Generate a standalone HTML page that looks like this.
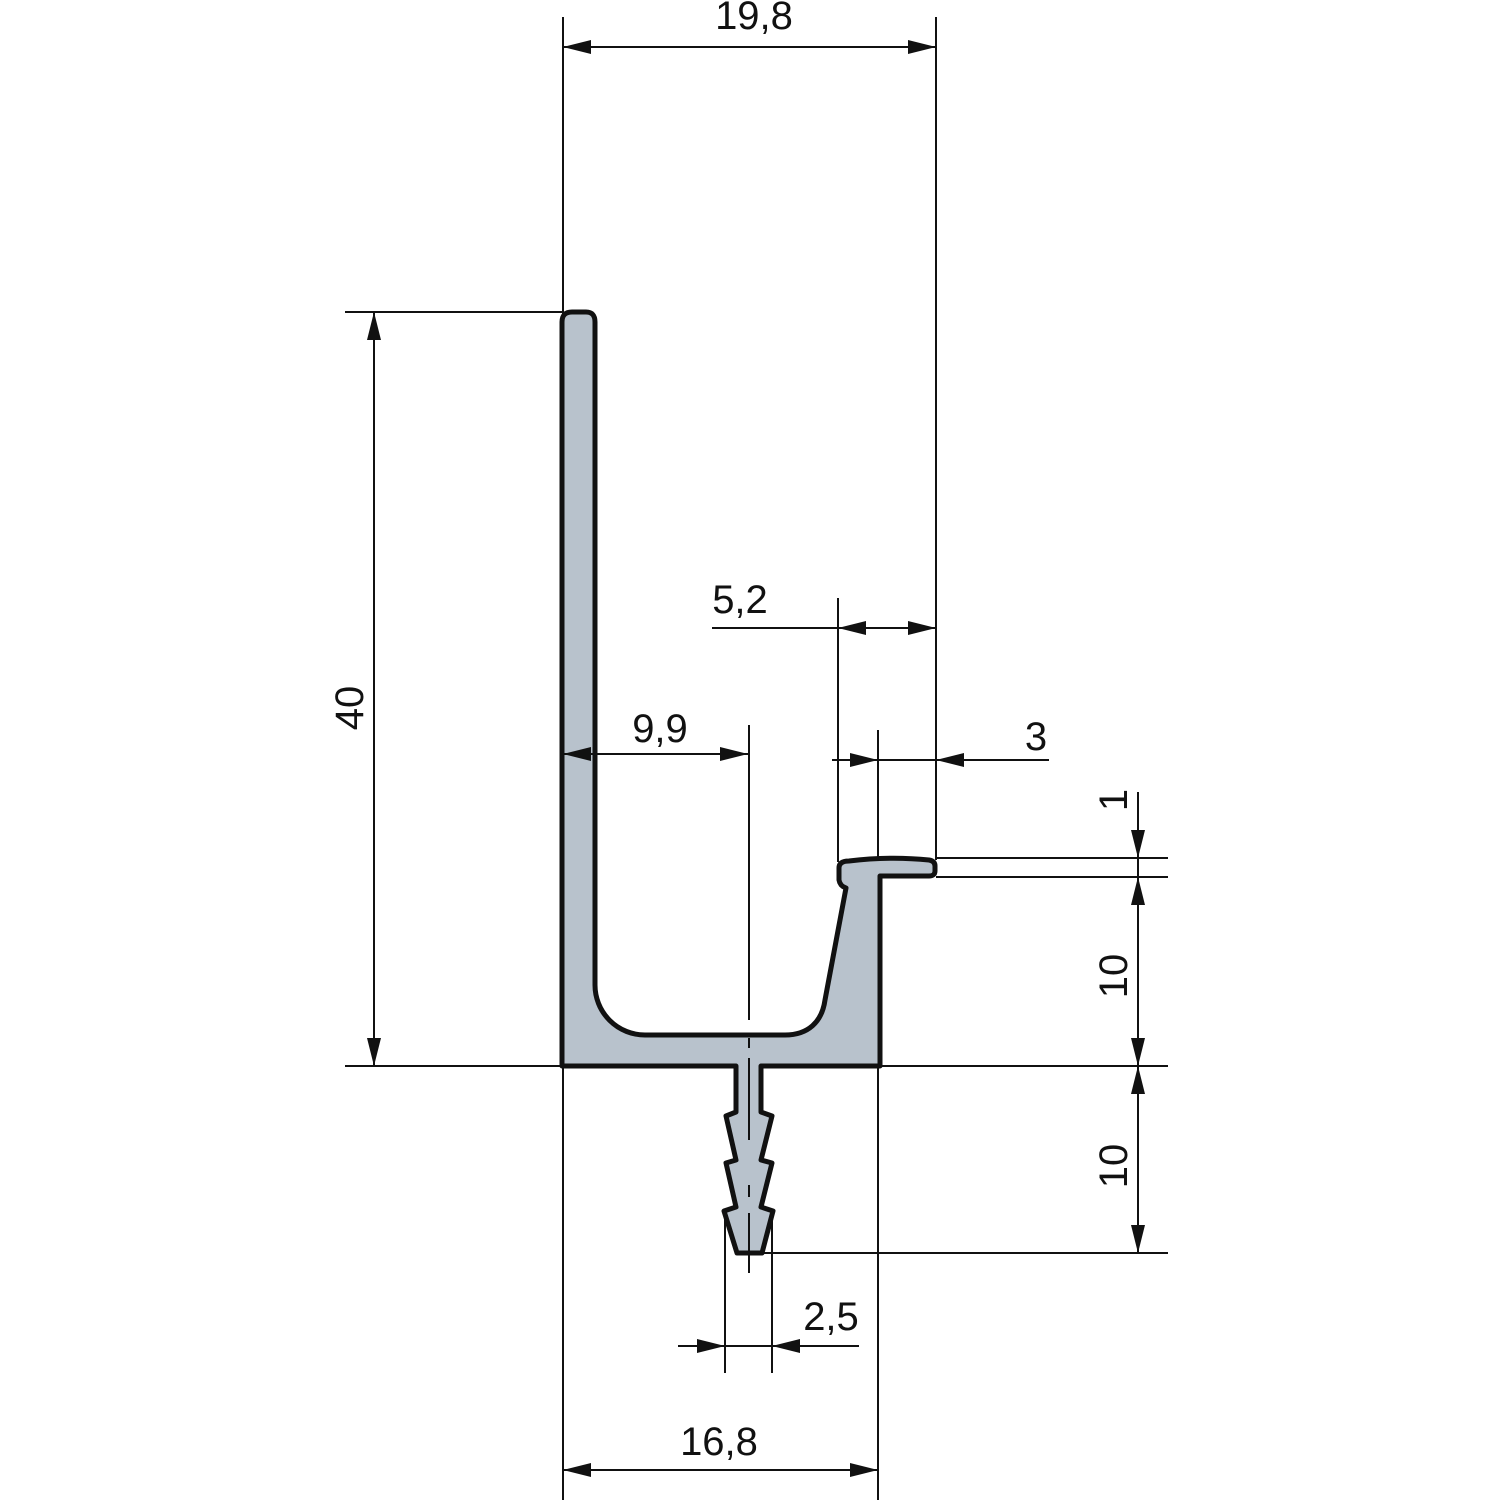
<!DOCTYPE html>
<html>
<head>
<meta charset="utf-8">
<style>
html,body{margin:0;padding:0;background:#fff;}
svg{display:block;}
text{font-family:"Liberation Sans",Arial,sans-serif;font-size:40px;fill:#111;}
</style>
</head>
<body>
<svg width="1500" height="1500" viewBox="0 0 1500 1500" xmlns="http://www.w3.org/2000/svg">
<rect width="1500" height="1500" fill="#fff"/>
<g stroke="#111" stroke-width="2" fill="none">
  <!-- extension lines -->
  <line x1="563" y1="17" x2="563" y2="1500"/>
  <line x1="936" y1="17" x2="936" y2="860"/>
  <line x1="345" y1="312" x2="563" y2="312"/>
  <line x1="345" y1="1066" x2="1168" y2="1066"/>
  <line x1="838" y1="598" x2="838" y2="862"/>
  <line x1="878" y1="730" x2="878" y2="876"/>
  <line x1="878" y1="1066" x2="878" y2="1500"/>
  <line x1="936" y1="858" x2="1168" y2="858"/>
  <line x1="936" y1="877" x2="1168" y2="877"/>
  <line x1="762" y1="1253" x2="1168" y2="1253"/>
  <line x1="725" y1="1215" x2="725" y2="1373"/>
  <line x1="772" y1="1215" x2="772" y2="1373"/>
  <!-- dimension lines -->
  <line x1="563" y1="47" x2="936" y2="47"/>
  <line x1="374" y1="312" x2="374" y2="1066"/>
  <line x1="712" y1="628" x2="936" y2="628"/>
  <line x1="832" y1="760" x2="1049" y2="760"/>
  <line x1="1138" y1="792" x2="1138" y2="1253"/>
  <line x1="678" y1="1346" x2="859" y2="1346"/>
  <line x1="563" y1="1470" x2="878" y2="1470"/>
</g>

<!-- profile -->
<path d="M 562,322 Q 562,312 572,312 L 586,312 Q 595,312 595,322 L 595,985 A 50 50 0 0 0 645,1035 L 785,1035 C 808,1035 822,1022 825,1000 L 846,888 Q 840,886 839,880 L 839,868 Q 839,861 849,861 Q 890,856 929,860 Q 935,861 935,866 L 935,871 Q 935,876 929,876 L 880,876 L 880,1066 L 761,1066 L 761,1112 L 772,1116 L 761,1160 L 772,1163 L 761,1207 L 773,1211 L 762,1253 L 737,1253 L 724,1211 L 736,1207 L 726,1163 L 736,1160 L 726,1116 L 736,1112 L 736,1066 L 562,1066 Z"
 fill="#b8c2cc" stroke="#111" stroke-width="5" stroke-linejoin="round"/>

<g stroke="#111" stroke-width="2" fill="none">
  <!-- 9,9 dimension -->
  <line x1="563" y1="754" x2="748" y2="754"/>
  <!-- centerline -->
  <line x1="749" y1="725" x2="749" y2="1020"/>
  <line x1="749" y1="1038" x2="749" y2="1048"/>
  <line x1="749" y1="1058" x2="749" y2="1140"/>
  <line x1="749" y1="1185" x2="749" y2="1197"/>
  <line x1="749" y1="1213" x2="749" y2="1273"/>
</g>

<!-- arrowheads -->
<g fill="#111" stroke="none">
  <polygon points="563,47 591,40 591,54"/>
  <polygon points="936,47 908,40 908,54"/>
  <polygon points="374,312 367,340 381,340"/>
  <polygon points="374,1066 367,1038 381,1038"/>
  <polygon points="838,628 866,621 866,635"/>
  <polygon points="936,628 908,621 908,635"/>
  <polygon points="563,754 591,747 591,761"/>
  <polygon points="748,754 720,747 720,761"/>
  <polygon points="878,760 850,753 850,767"/>
  <polygon points="936,760 964,753 964,767"/>
  <polygon points="1138,858 1131,830 1145,830"/>
  <polygon points="1138,877 1131,905 1145,905"/>
  <polygon points="1138,1066 1131,1038 1145,1038"/>
  <polygon points="1138,1066 1131,1094 1145,1094"/>
  <polygon points="1138,1253 1131,1225 1145,1225"/>
  <polygon points="725,1346 697,1339 697,1353"/>
  <polygon points="772,1346 800,1339 800,1353"/>
  <polygon points="563,1470 591,1463 591,1477"/>
  <polygon points="878,1470 850,1463 850,1477"/>
</g>

<!-- labels -->
<text x="754" y="29" text-anchor="middle">19,8</text>
<text x="740" y="613" text-anchor="middle">5,2</text>
<text x="660" y="742" text-anchor="middle">9,9</text>
<text x="1036" y="750" text-anchor="middle">3</text>
<text x="831" y="1330" text-anchor="middle">2,5</text>
<text x="719" y="1455" text-anchor="middle">16,8</text>
<text transform="translate(363,708) rotate(-90)" text-anchor="middle">40</text>
<text transform="translate(1127,800) rotate(-90)" text-anchor="middle">1</text>
<text transform="translate(1127,976) rotate(-90)" text-anchor="middle">10</text>
<text transform="translate(1127,1166) rotate(-90)" text-anchor="middle">10</text>
</svg>
</body>
</html>
